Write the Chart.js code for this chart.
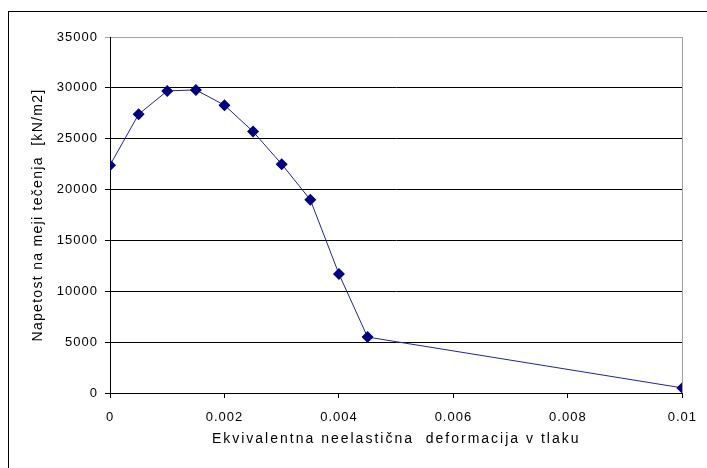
<!DOCTYPE html>
<html>
<head>
<meta charset="utf-8">
<script src="https://cdn.jsdelivr.net/npm/chart.js@4"></script>
<style>
  html, body { margin: 0; padding: 0; background: #fff; }
  #wrap { position: relative; width: 707px; height: 468px; overflow: hidden; }
  #frame { position: absolute; left: 8px; top: 11px; width: 720px; height: 480px; border: 1px solid #000; box-sizing: border-box; }
  canvas { position: absolute; left: 0; top: 0; }
</style>
</head>
<body>
<div id="wrap">
  <div id="frame"></div>
  <canvas id="c" width="707" height="468"></canvas>
</div>
<script>
// Equivalent inelastic compressive strain and the yield stress at each step
const strain = [0, 0.0005, 0.001, 0.0015, 0.002, 0.0025, 0.003, 0.0035, 0.004, 0.0045, 0.01];
const stress = [22400, 27400, 29700, 29800, 28300, 25700, 22500, 19000, 11700, 5500, 500];
const xTickLabels = ['0', '0.002', '0.004', '0.006', '0.008', '0.01'];
const yTickLabels = ['0', '5000', '10000', '15000', '20000', '25000', '30000', '35000'];

const points = strain.map((x, i) => ({ x: x, y: stress[i] }));
const FAMILY = 'Liberation Sans, Arial, sans-serif';
const tickFont = { family: FAMILY, size: 13 };
const titleFont = { family: FAMILY, size: 14 };

// wide letter spacing for the axis texts
const spacing = { xTitle: '2px', yTitle: '1.3px', ticks: '1px' };

function withSpacing(scale, method, value) {
  const orig = scale[method];
  scale[method] = function () {
    const ctx = this.ctx;
    ctx.save();
    ctx.letterSpacing = value;
    orig.apply(this, arguments);
    ctx.restore();
  };
}

const textSpacing = {
  id: 'textSpacing',
  afterLayout(chart) {
    if (chart.$spaced) return;
    chart.$spaced = true;
    withSpacing(chart.scales.x, 'drawTitle', spacing.xTitle);
    withSpacing(chart.scales.y, 'drawTitle', spacing.yTitle);
    withSpacing(chart.scales.x, 'drawLabels', spacing.ticks);
    withSpacing(chart.scales.y, 'drawLabels', spacing.ticks);
  }
};

// right edge of the plot area in grey
const plotBorder = {
  id: 'plotBorder',
  afterDraw(chart) {
    const a = chart.chartArea, ctx = chart.ctx;
    ctx.save();
    ctx.strokeStyle = '#a0a0a0';
    ctx.lineWidth = 1;
    ctx.beginPath();
    ctx.moveTo(Math.round(a.right) + 0.5, a.top);
    ctx.lineTo(Math.round(a.right) + 0.5, a.bottom);
    ctx.stroke();
    ctx.restore();
  }
};

new Chart(document.getElementById('c'), {
  type: 'scatter',
  data: {
    datasets: [{
      data: points,
      showLine: true,
      borderColor: '#23239a',
      borderWidth: 1,
      pointStyle: 'rectRot',
      pointRadius: 6,
      pointHoverRadius: 6,
      pointBackgroundColor: '#000080',
      pointBorderColor: '#000080',
      pointBorderWidth: 0
    }]
  },
  options: {
    responsive: false,
    animation: false,
    devicePixelRatio: 1,
    layout: { padding: { left: 30, right: 24, top: 37, bottom: 20 } },
    plugins: { legend: { display: false }, tooltip: { enabled: false } },
    scales: {
      x: {
        type: 'linear',
        min: 0,
        max: 0.01,
        afterFit(scale) { scale.height = 55; },
        afterBuildTicks(scale) {
          scale.ticks = xTickLabels.map(t => ({ value: parseFloat(t) }));
        },
        ticks: {
          color: '#000',
          font: tickFont,
          padding: 12,
          maxRotation: 0,
          callback: (v, i) => xTickLabels[i]
        },
        grid: { drawOnChartArea: false, drawTicks: true, tickLength: 5, color: '#000' },
        border: { color: '#000', width: 1 },
        title: {
          display: true,
          text: 'Ekvivalentna neelastična  deformacija v tlaku',
          color: '#000',
          font: titleFont,
          padding: { top: 4, bottom: 0 }
        }
      },
      y: {
        type: 'linear',
        min: 0,
        max: 35000,
        afterFit(scale) { scale.width = 80; },
        afterBuildTicks(scale) {
          scale.ticks = yTickLabels.map(t => ({ value: parseFloat(t) }));
        },
        ticks: {
          color: '#000',
          font: tickFont,
          padding: 7,
          callback: (v, i) => yTickLabels[i]
        },
        grid: {
          drawTicks: true,
          tickLength: 5,
          color: ctx => (ctx.tick && ctx.tick.value === 35000) ? '#a0a0a0' : '#000'
        },
        border: { color: '#000', width: 1 },
        title: {
          display: true,
          text: 'Napetost na meji tečenja  [kN/m2]',
          color: '#000',
          font: titleFont,
          padding: { top: 0, bottom: 4 }
        }
      }
    }
  },
  plugins: [plotBorder, textSpacing]
});
</script>
</body>
</html>
